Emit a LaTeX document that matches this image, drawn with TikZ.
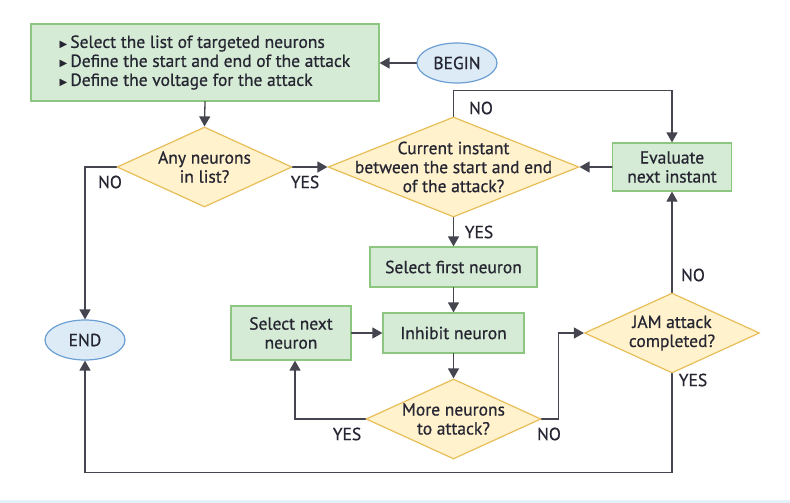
\documentclass[tikz,border=0pt]{standalone}
\usepackage{fontspec}
\setmainfont[FakeBold=0.7]{PT Sans}
\newfontfamily\symfont{DejaVu Sans}
\usetikzlibrary{arrows.meta}
\usetikzlibrary{shapes.geometric}
\usetikzlibrary{calc}
\definecolor{lineC}{HTML}{45454F}
\definecolor{textC}{HTML}{262633}
\definecolor{procF}{HTML}{D5EBD5}
\definecolor{procD}{HTML}{8DC67F}
\definecolor{decF}{HTML}{FFF2CC}
\definecolor{decD}{HTML}{E8BE58}
\definecolor{termF}{HTML}{DDEBF7}
\definecolor{termD}{HTML}{6C9FD4}
\definecolor{stripC}{HTML}{E3F1F8}
\newcommand{\tri}{{\symfont\fontsize{10}{10}\selectfont ▶}\,}

\begin{document}
\begin{tikzpicture}[x=1pt, y=-1pt, line cap=round,
    every node/.style={text=textC, font=\fontsize{17.5}{19}\selectfont},
    proc/.style={draw=procD, fill=procF, line width=1.2pt, align=center, inner sep=0pt},
    decision/.style={diamond, draw=decD, fill=decF, line width=1.2pt, align=center,
        inner sep=-16pt, aspect=2.2, minimum width=175pt, minimum height=80pt},
    term/.style={ellipse, draw=termD, fill=termF, line width=1.2pt, inner sep=0pt,
        minimum width=80pt, minimum height=40pt},
    flow/.style={draw=lineC, line width=1.3pt, -{Triangle[length=10pt, width=11pt]}},
    answer/.style={inner sep=1pt}]
    % jam attack flow
    \fill[white] (0,0) rectangle (790,503);
    \fill[stripC] (0,500) rectangle (790,503);
    \useasboundingbox (0,0) rectangle (790,503);

    \node[proc, minimum width=348pt, minimum height=77pt, align=left] (setup) at (205,62.5)
        {\tri Select the list of targeted neurons\\
         \tri Define the start and end of the attack\\
         \tri Define the voltage for the attack};
    \node[term] (begin) at (457,63) {BEGIN};
    \node[term] (end) at (85,340) {END};

    \node[decision] (anyn) at (204.5,167) {Any neurons\\in list?};
    \node[decision, minimum width=251pt, minimum height=100pt, inner sep=-20pt, aspect=2.5] (inst) at (453.5,167)
        {Current instant\\between the start and end\\of the attack?};
    \node[proc, minimum width=119pt, minimum height=48pt] (evalnext) at (672,167) {Evaluate\\next instant};
    \node[proc, minimum width=167pt, minimum height=40pt] (first) at (453.5,267) {Select first neuron};
    \node[proc, minimum width=141pt, minimum height=40pt] (inhibit) at (453.5,333) {Inhibit neuron};
    \node[proc, minimum width=120pt, minimum height=54pt] (nextn) at (291,333) {Select next\\neuron};
    \node[decision] (more) at (453.5,419) {More neurons\\to attack?};
    \node[decision] (jam) at (672,333) {JAM attack\\completed?};

    \node[answer] (noA) at (110,182) {NO};
    \node[answer] (yesA) at (305,182) {YES};
    \node[answer] (noI) at (481,108) {NO};
    \node[answer] (yesI) at (479,232) {YES};
    \node[answer] (noJ) at (693,275) {NO};
    \node[answer] (yesJ) at (693,380) {YES};
    \node[answer] (yesM) at (347,434) {YES};
    \node[answer] (noM) at (549,434) {NO};

    \draw[flow] (begin.west) -- (begin.west -| setup.east);
    \draw[flow] (setup.south) -- (anyn.north);
    \draw[flow] (anyn.east) -- (inst.west);
    \draw[flow] (anyn.west) -| (end.north);
    \draw[flow] (inst.north) -- ++(0,-26) -| (evalnext.north);
    \draw[flow] (evalnext.west) -- (inst.east);
    \draw[flow] (inst.south) -- (first.north);
    \draw[flow] (first.south) -- (inhibit.north);
    \draw[flow] (nextn.east) -- (nextn.east -| inhibit.west);
    \draw[flow] (inhibit.south) -- (more.north);
    \draw[flow] (more.west) -| ([xshift=4pt]nextn.south);
    \draw[flow] (more.east) -- ++(17,0) |- (jam.west);
    \draw[flow] (jam.north) -- (evalnext.south);
    \draw[flow] (jam.south) -- ++(0,99) -| (end.south);
\end{tikzpicture}
\end{document}
